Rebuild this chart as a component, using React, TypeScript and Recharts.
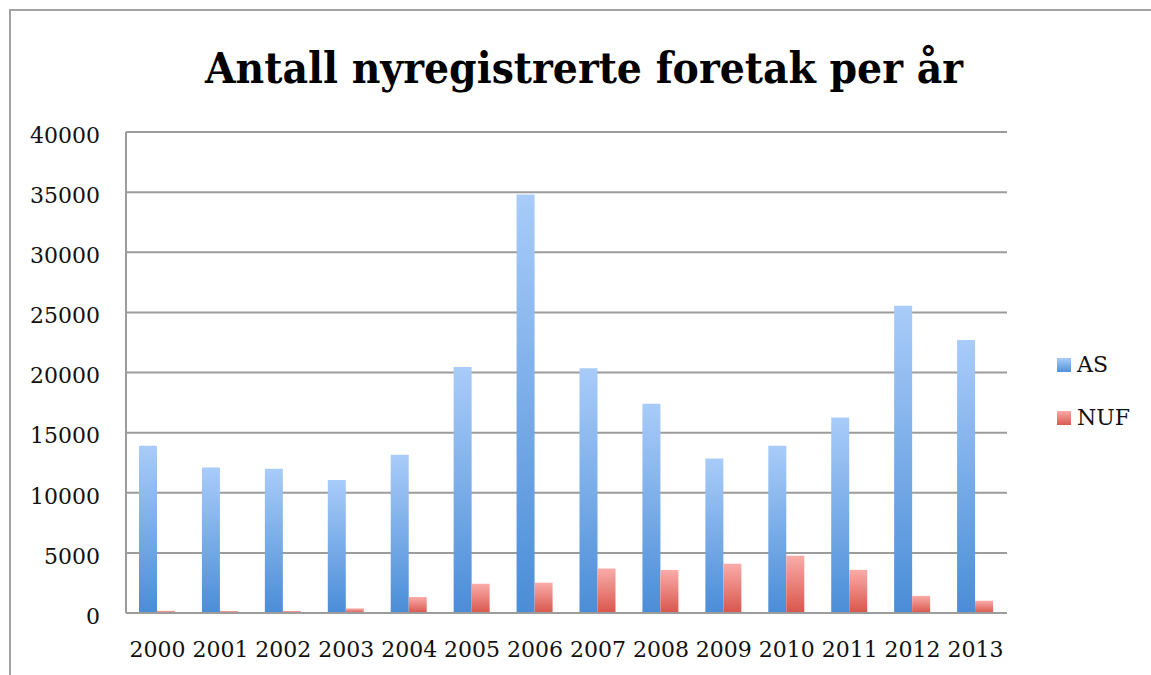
import { BarChart, Bar, XAxis, YAxis, CartesianGrid } from 'recharts'

const years = ['2000', '2001', '2002', '2003', '2004', '2005', '2006', '2007', '2008', '2009', '2010', '2011', '2012', '2013']
const asValues = [13900, 12100, 12000, 11050, 13150, 20450, 34800, 20350, 17400, 12850, 13900, 16250, 25550, 22700]
const nufValues = [180, 170, 170, 380, 1330, 2430, 2520, 3700, 3580, 4100, 4760, 3590, 1430, 1020]
const yTicks = [0, 5000, 10000, 15000, 20000, 25000, 30000, 35000, 40000]
const seriesNames = ['AS', 'NUF']

const data = years.map((year, i) => ({ year, AS: asValues[i], NUF: nufValues[i] }))

const FONT = '"DejaVu Serif", serif'
const GRID = '#9c9c9c'
const swatch: Record<string, string> = {
  AS: 'linear-gradient(#a9ccf9, #4f92da)',
  NUF: 'linear-gradient(#f9aaa7, #d95a50)',
}

export default function App() {
  return (
    <div style={{ position: 'absolute', left: 0, top: 0, width: 1151, height: 675, background: '#fff', overflow: 'hidden' }}>
      <div style={{ position: 'absolute', left: 9, top: 9, width: 1300, height: 800, border: '2px solid #a3a3a3' }} />
      <svg style={{ position: 'absolute', left: 0, top: 0 }} width={1151} height={110}>
        <text
          x={205}
          y={83}
          textLength={758}
          lengthAdjust="spacingAndGlyphs"
          style={{ fontFamily: FONT, fontWeight: 'bold', fontSize: 43, fill: '#000' }}
        >
          Antall nyregistrerte foretak per år
        </text>
      </svg>
      <div style={{ position: 'absolute', left: 0, top: 0 }}>
        <BarChart
          width={1151}
          height={675}
          data={data}
          margin={{ top: 132, right: 144, bottom: 0, left: 0 }}
          barGap={0}
          barSize={18}
        >
          <defs>
            <linearGradient id="gradAS" x1="0" y1="0" x2="0" y2="1">
              <stop offset="0%" stopColor="#a9ccf9" />
              <stop offset="100%" stopColor="#4a8dd7" />
            </linearGradient>
            <linearGradient id="gradNUF" x1="0" y1="0" x2="0" y2="1">
              <stop offset="0%" stopColor="#faaca9" />
              <stop offset="100%" stopColor="#d8564c" />
            </linearGradient>
          </defs>
          <CartesianGrid vertical={false} stroke={GRID} strokeWidth={2} />
          <XAxis
            dataKey="year"
            height={62}
            interval={0}
            tickLine={false}
            tickMargin={22}
            axisLine={{ stroke: GRID, strokeWidth: 2 }}
            tick={{ fontFamily: FONT, fontSize: 22, fill: '#111' }}
          />
          <YAxis
            width={126}
            domain={[0, 40000]}
            ticks={yTicks}
            interval={0}
            tickLine={false}
            tickMargin={20}
            axisLine={{ stroke: GRID, strokeWidth: 2 }}
            tick={{ fontFamily: FONT, fontSize: 22, fill: '#111', dy: 3 }}
          />
          <Bar dataKey="AS" fill="url(#gradAS)" isAnimationActive={false} />
          <Bar dataKey="NUF" fill="url(#gradNUF)" isAnimationActive={false} />
        </BarChart>
      </div>
      <div style={{ position: 'absolute', left: 1057, top: 338, fontFamily: FONT, fontSize: 22, color: '#111' }}>
        {seriesNames.map((name) => (
          <div key={name} style={{ display: 'flex', alignItems: 'center', height: 53 }}>
            <span style={{ width: 14, height: 14, marginRight: 6, background: swatch[name] }} />
            {name}
          </div>
        ))}
      </div>
    </div>
  )
}
